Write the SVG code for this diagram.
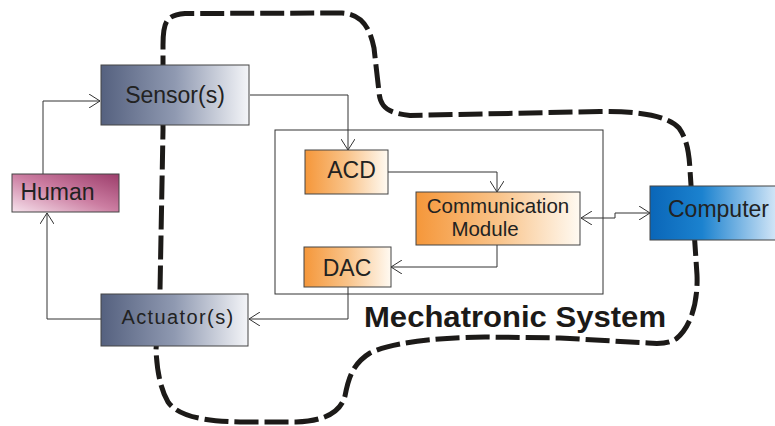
<svg xmlns="http://www.w3.org/2000/svg" width="775" height="426" viewBox="0 0 775 426">
<style>
.box{stroke:#444;stroke-width:1}
.lbl{font-family:"Liberation Sans",Arial,sans-serif;fill:#222}
.ln{fill:none;stroke:#333;stroke-width:1}
.blob{fill:none;stroke:#1c1a18;stroke-width:5;stroke-dasharray:24 6}
</style>
<defs>
<linearGradient id="gSlate" x1="0" y1="0" x2="1" y2="0">
<stop offset="0" stop-color="#55617f"/>
<stop offset="0.5" stop-color="#8f99b1"/>
<stop offset="1" stop-color="#f4f5f8"/>
</linearGradient>
<linearGradient id="gOrange" x1="0" y1="0" x2="1" y2="0">
<stop offset="0" stop-color="#f5973a"/>
<stop offset="0.5" stop-color="#f9c389"/>
<stop offset="1" stop-color="#fffaf2"/>
</linearGradient>
<linearGradient id="gBlue" x1="0" y1="0" x2="1" y2="0">
<stop offset="0" stop-color="#0a66b8"/>
<stop offset="0.4" stop-color="#1b82cf"/>
<stop offset="1" stop-color="#dcebf9"/>
</linearGradient>
<linearGradient id="gPink" x1="0" y1="1" x2="1" y2="0">
<stop offset="0" stop-color="#f6e2ec"/>
<stop offset="0.5" stop-color="#cc7ea2"/>
<stop offset="1" stop-color="#9c3d6b"/>
</linearGradient>
<marker id="arr" viewBox="0 0 12 14" refX="11" refY="7" markerWidth="12" markerHeight="14" markerUnits="userSpaceOnUse" orient="auto-start-reverse">
<path d="M0,0 L11,7 L0,14" fill="none" stroke="#333" stroke-width="1"/>
</marker>
</defs>

<path id="mechatronic-boundary" class="blob" d="M163,45 C163,22 166,15 185,13.5 L342,13 C362,14 370,28 374,48 L379,92 C380,106 386,113 410,115.5 L600,111.5 C640,111 668,116 679,128 C686,138 689,150 690,170 L697,275 C698,300 692,326 676,339 C668,344 658,344 648,343 L560,338 L485,337 C430,338 390,343 370,353 C352,364 348,380 345,396 C340,414 322,421 296,422 L240,422 C202,421 178,416 168,402 C160,388 157,370 156,350 L160,290 L163,130 Z"/>

<g id="inner-system">
<rect x="275" y="130" width="328" height="164" fill="none" stroke="#333" stroke-width="1"/>
</g>

<g id="connectors">
<path class="ln" d="M43,174 V101 H100" marker-end="url(#arr)"/>
<path class="ln" d="M101,319 H47 V213" marker-end="url(#arr)"/>
<path class="ln" d="M250,95 H348 V150" marker-end="url(#arr)"/>
<path class="ln" d="M388,172 H497 V192" marker-end="url(#arr)"/>
<path class="ln" d="M497,245 V267 H391" marker-end="url(#arr)"/>
<path class="ln" d="M348,287 V319 H249" marker-end="url(#arr)"/>
<path class="ln" d="M581,218 H615 V213 H650" marker-start="url(#arr)" marker-end="url(#arr)"/>
</g>

<g id="sensor">
<rect class="box" x="101" y="65" width="148" height="60" fill="url(#gSlate)"/>
<text class="lbl" x="175" y="103" font-size="23" text-anchor="middle">Sensor(s)</text>
</g>

<g id="human">
<rect class="box" x="12" y="174" width="107" height="38" fill="url(#gPink)"/>
<text class="lbl" x="57.5" y="199.5" font-size="23" text-anchor="middle">Human</text>
</g>

<g id="actuator">
<rect class="box" x="101" y="294" width="147" height="52" fill="url(#gSlate)"/>
<text class="lbl" x="178" y="323.5" font-size="20" letter-spacing="1.4" text-anchor="middle">Actuator(s)</text>
</g>

<g id="acd">
<rect class="box" x="305" y="150" width="83" height="44" fill="url(#gOrange)"/>
<text class="lbl" x="351.5" y="178" font-size="23" text-anchor="middle">ACD</text>
</g>

<g id="communication-module">
<rect class="box" x="416" y="192" width="164" height="53" fill="url(#gOrange)"/>
<text class="lbl" x="498" y="213" font-size="20.5" text-anchor="middle">Communication</text>
<text class="lbl" x="485" y="236" font-size="20.5" text-anchor="middle">Module</text>
</g>

<g id="dac">
<rect class="box" x="304" y="247" width="87" height="40" fill="url(#gOrange)"/>
<text class="lbl" x="347" y="276" font-size="23" text-anchor="middle">DAC</text>
</g>

<g id="computer">
<rect class="box" x="650" y="186" width="130" height="54" fill="url(#gBlue)"/>
<text class="lbl" x="718.5" y="217" font-size="23" text-anchor="middle">Computer</text>
</g>

<g id="system-label">
<text x="364" y="327" font-family="Liberation Sans,Arial,sans-serif" font-weight="bold" font-size="30" fill="#1c1a18" textLength="302" lengthAdjust="spacingAndGlyphs">Mechatronic System</text>
</g>
</svg>
